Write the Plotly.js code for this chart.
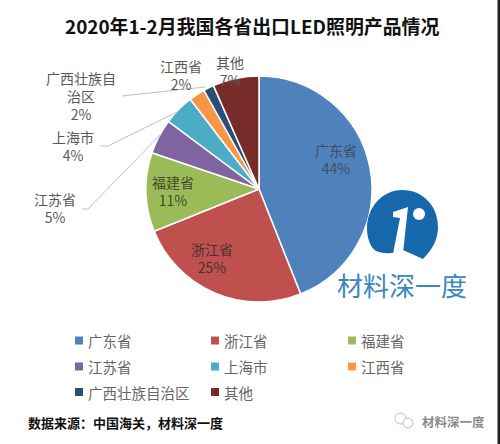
<!DOCTYPE html>
<html><head><meta charset="utf-8">
<script src="https://cdn.plot.ly/plotly-3.0.1.min.js"></script>
<style>html,body{margin:0;padding:0;background:#fff}#c{width:500px;height:444px}</style>
</head><body><div id="c"></div><script>
const categories=['广东省','浙江省','福建省','江苏省','上海市','江西省','广西壮族自治区','其他'];
const seriesValues=[44.0,24.9,11.3,5.0,4.4,2.3,1.5,6.6];
const shownPercents=['44%','25%','11%','5%','4%','2%','2%','7%'];
const sliceColors=['#4f81bd','#c0504d','#9bbb59','#8064a2','#4bacc6','#f79646','#2c4d75','#772c2a'];
const labelLines=['广东省','浙江省','福建省','江苏省','上海市','江西省','广西壮族自<br>治区','其他'];
const labelCenters=[[336,159],[212,258],[173,191],[55,208],[73,146],[181,75],[81,96],[230,71]];
const labelColors=['#3f4d5f','#4a3030','#3f4a2a','#595959','#595959','#595959','#595959','#595959'];
const legendColumnsX=[75,211,348];
const legendRowsY=[340.5,366.5,392];
const W=500,H=444;
const px=x=>x/W, py=y=>1-y/H;
const P=(x,y)=>px(x)+','+py(y);
const line=(pts)=>({type:'path',xref:'paper',yref:'paper',
  path:'M'+pts.map(p=>P(p[0],p[1])).join('L'),line:{color:'#bfbfbf',width:1}});
const txt=(x,y,text,size,color,anchor)=>({xref:'paper',yref:'paper',x:px(x),y:py(y),text:text,showarrow:false,
  xanchor:anchor||'center',yanchor:'middle',font:{family:'"Noto Sans CJK SC"',size:size,color:color}});
const annos=categories.map((c,i)=>txt(labelCenters[i][0],labelCenters[i][1],labelLines[i]+'<br>'+shownPercents[i],14,labelColors[i]));
annos.push(txt(252,26,'<b>2020年1-2月我国各省出口LED照明产品情况</b>',18.9,'#111'));
annos.push(txt(26,422,'<b>数据来源：中国海关，材料深一度</b>',13,'#111','left'));
annos.push(txt(402,284,'材料深一度',26,'#3a87bf'));
annos.push(txt(420,421,'<b>材料深一度</b>',12.5,'#8c8c8c','left'));
const swatches=categories.map((c,i)=>{
  const cx=legendColumnsX[i%3], cy=legendRowsY[Math.floor(i/3)];
  annos.push(txt(cx+11,cy,c,14.5,'#666','left'));
  return {type:'rect',xref:'paper',yref:'paper',x0:px(cx),x1:px(cx+8),y0:py(cy-4),y1:py(cy+4),fillcolor:sliceColors[i],line:{width:0}};
});
const one=[[393,212],[408,207],[403,253],[393,254],[400,218],[393,217]];
const shapes=[
 line([[122,96],[205,87]]),
 line([[100,146],[108,146],[177,112]]),
 line([[82,209],[88,209],[160,135]]),
 {type:'path',xref:'paper',yref:'paper',layer:'above',fillcolor:'#1767ad',line:{width:0},
  path:'M'+P(402,190)+'C'+P(382,190)+' '+P(367,208)+' '+P(367,228)+'C'+P(367,238)+' '+P(370,247)+' '+P(376,251)+'C'+P(383,254)+' '+P(390,253)+' '+P(393,253)+'L'+P(403,250)+'L'+P(423,259)+'C'+P(432,250)+' '+P(438,240)+' '+P(438,227)+'C'+P(438,206)+' '+P(423,190)+' '+P(402,190)+'Z'},
 {type:'path',xref:'paper',yref:'paper',path:'M'+one.map(p=>P(p[0],p[1])).join('L')+'Z',fillcolor:'#fff',line:{width:0},layer:'above'},
 {type:'circle',xref:'paper',yref:'paper',x0:px(413),x1:px(425),y0:py(208),y1:py(220),fillcolor:'#fff',line:{width:0}},
 {type:'circle',xref:'paper',yref:'paper',x0:px(395),x1:px(406),y0:py(413),y1:py(424),fillcolor:'#fff',line:{color:'#bbb',width:1}},
 {type:'circle',xref:'paper',yref:'paper',x0:px(403),x1:px(413),y0:py(418),y1:py(428),fillcolor:'#fff',line:{color:'#bbb',width:1}},
 {type:'rect',xref:'paper',yref:'paper',x0:px(497.5),x1:1,y0:0,y1:1,fillcolor:'#222',line:{width:0}}
].concat(swatches);
Plotly.newPlot('c',[{type:'pie',labels:categories,values:seriesValues,sort:false,direction:'clockwise',rotation:0,
  marker:{colors:sliceColors,line:{color:'#fff',width:1.5}},textinfo:'none',hoverinfo:'none',
  domain:{x:[px(146),px(372)],y:[py(302),py(76)]}}],
 {width:W,height:H,margin:{l:0,r:0,t:0,b:0},paper_bgcolor:'#fff',showlegend:false,
  annotations:annos,shapes:shapes},{displayModeBar:false,staticPlot:true});
</script></body></html>
